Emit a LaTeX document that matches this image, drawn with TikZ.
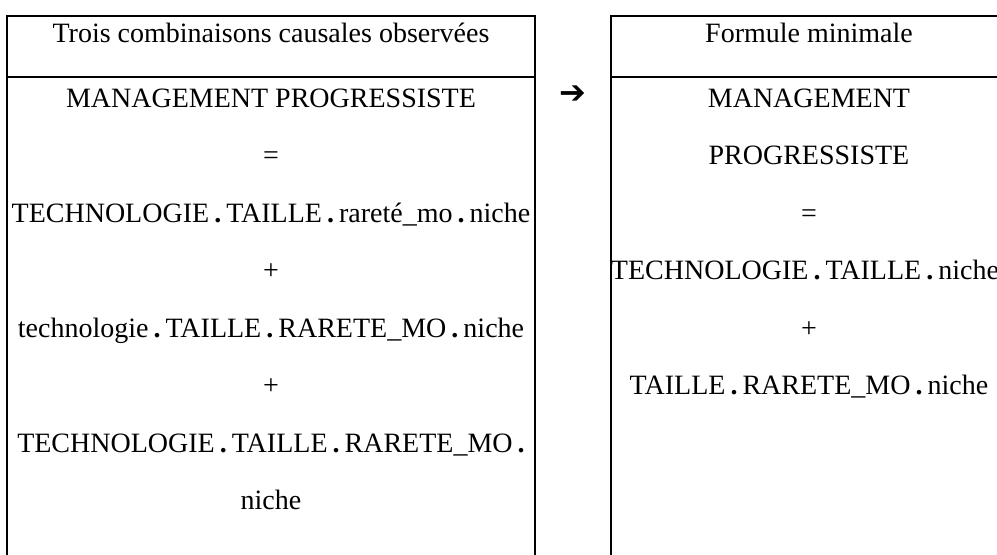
\documentclass[tikz,border=0pt]{standalone}
\usepackage{fontspec}
\setmainfont{Liberation Serif}
\newfontfamily\symfont{DejaVu Sans}
\newcommand{\pt}{\hspace{0.18em}\textbf{.}\hspace{0.18em}}
\begin{document}
\begin{tikzpicture}[x=0.5pt,y=-0.5pt]
	\useasboundingbox (0,0) rectangle (997,554);
	\clip (0,0) rectangle (997,554);

	\begin{scope}[line width=1.3pt]
		\draw (7,580) -- (7,16) -- (535,16) -- (535,580);
		\draw (7,77) -- (535,77);
		\draw (611,580) -- (611,16) -- (1012,16);
		\draw (611,77) -- (1012,77);
	\end{scope}

	\begin{scope}[every node/.style={anchor=base,inner sep=0pt,font=\fontsize{14}{17}\selectfont}]
		\node (T1) at (271,42) {Trois combinaisons causales observées};
		\node (L1) at (271,107) {MANAGEMENT PROGRESSISTE};
		\node (L2) at (271,164) {=};
		\node (L3) at (271,222) {TECHNOLOGIE\pt TAILLE\pt rareté\_mo\pt niche};
		\node (L4) at (271,279) {+};
		\node (L5) at (271,337) {technologie\pt TAILLE\pt RARETE\_MO\pt niche};
		\node (L6) at (271,394) {+};
		\node (L7) at (271,452) {TECHNOLOGIE\pt TAILLE\pt RARETE\_MO\pt};
		\node (L8) at (271,509) {niche};

		\node (T2) at (809,42) {Formule minimale};
		\node (R1) at (809,107) {MANAGEMENT};
		\node (R2) at (809,164) {PROGRESSISTE};
		\node (R3) at (809,222) {=};
		\node (R4) at (805,279) {TECHNOLOGIE\pt TAILLE\pt niche};
		\node (R5) at (809,337) {+};
		\node (R6) at (809,394) {TAILLE\pt RARETE\_MO\pt niche};
	\end{scope}

	\node (fl) at (573,95) {\symfont\fontsize{16}{17}\selectfont ➔};

\end{tikzpicture}
\end{document}
